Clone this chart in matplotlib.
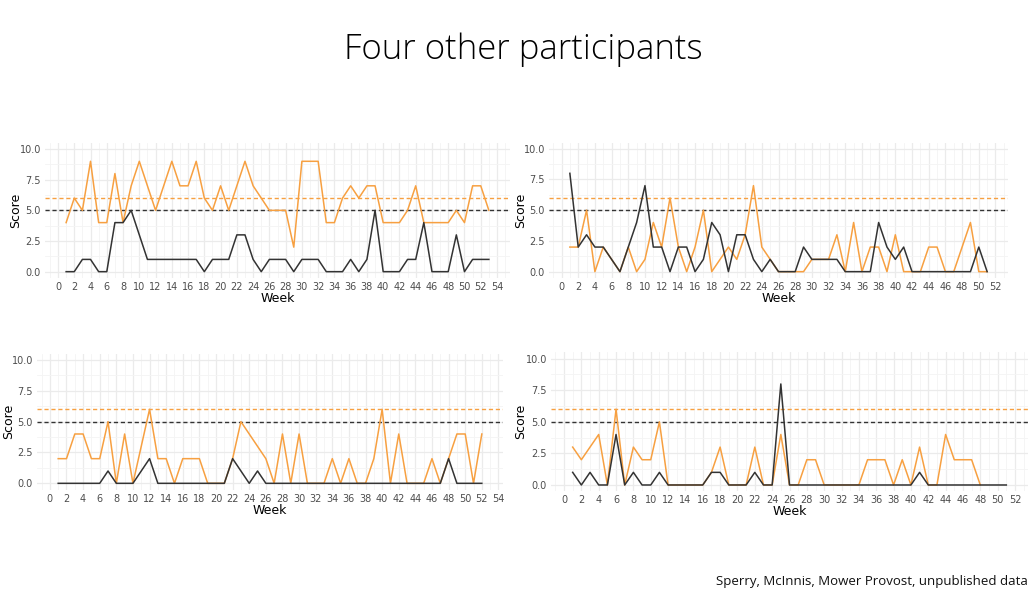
import matplotlib
matplotlib.use("Agg")
import matplotlib.pyplot as plt
from matplotlib.ticker import MultipleLocator

# ---------------- data ----------------
weeks_p1 = list(range(1, 54))
orange_p1 = [4, 6, 5, 9, 4, 4, 8, 4, 7, 9, 7, 5, 7, 9, 7, 7, 9, 6, 5, 7, 5, 7, 9, 7, 6, 5,
             5, 5, 2, 9, 9, 9, 4, 4, 6, 7, 6, 7, 7, 4, 4, 4, 5, 7, 4, 4, 4, 4, 5, 4, 7, 7, 5]
black_p1 = [0, 0, 1, 1, 0, 0, 4, 4, 5, 3, 1, 1, 1, 1, 1, 1, 1, 0, 1, 1, 1, 3, 3, 1, 0, 1,
            1, 1, 0, 1, 1, 1, 0, 0, 0, 1, 0, 1, 5, 0, 0, 0, 1, 1, 4, 0, 0, 0, 3, 0, 1, 1, 1]

weeks_p2 = list(range(1, 52))
orange_p2 = [2, 2, 5, 0, 2, 1, 0, 2, 0, 1, 4, 2, 6, 2, 0, 2, 5, 0, 1, 2, 1, 3, 7, 2, 1, 0,
             0, 0, 0, 1, 1, 1, 3, 0, 4, 0, 2, 2, 0, 3, 0, 0, 0, 2, 2, 0, 0, 2, 4, 0, 0]
black_p2 = [8, 2, 3, 2, 2, 1, 0, 2, 4, 7, 2, 2, 0, 2, 2, 0, 1, 4, 3, 0, 3, 3, 1, 0, 1, 0,
            0, 0, 2, 1, 1, 1, 1, 0, 0, 0, 0, 4, 2, 1, 2, 0, 0, 0, 0, 0, 0, 0, 0, 2, 0]

weeks_p3 = list(range(1, 53))
orange_p3 = [2, 2, 4, 4, 2, 2, 5, 0, 4, 0, 3, 6, 2, 2, 0, 2, 2, 2, 0, 0, 0, 2, 5, 4, 3, 2,
             0, 4, 0, 4, 0, 0, 0, 2, 0, 2, 0, 0, 2, 6, 0, 4, 0, 0, 0, 2, 0, 2, 4, 4, 0, 4]
black_p3 = [0, 0, 0, 0, 0, 0, 1, 0, 0, 0, 1, 2, 0, 0, 0, 0, 0, 0, 0, 0, 0, 2, 1, 0, 1, 0,
            0, 0, 0, 0, 0, 0, 0, 0, 0, 0, 0, 0, 0, 0, 0, 0, 0, 0, 0, 0, 0, 2, 0, 0, 0, 0]

weeks_p4_orange = list(range(1, 49))
orange_p4 = [3, 2, 3, 4, 0, 6, 0, 3, 2, 2, 5, 0, 0, 0, 0, 0, 1, 3, 0, 0, 0, 3, 0, 0, 4, 0,
             0, 2, 2, 0, 0, 0, 0, 0, 2, 2, 2, 0, 2, 0, 3, 0, 0, 4, 2, 2, 2, 0]
weeks_p4_black = list(range(1, 52))
black_p4 = [1, 0, 1, 0, 0, 4, 0, 1, 0, 0, 1, 0, 0, 0, 0, 0, 1, 1, 0, 0, 0, 1, 0, 0, 8, 0,
            0, 0, 0, 0, 0, 0, 0, 0, 0, 0, 0, 0, 0, 0, 1, 0, 0, 0, 0, 0, 0, 0, 0, 0, 0]

orange_threshold = 6
black_threshold = 5

title = "Four other participants"
caption = "Sperry, McInnis, Mower Provost, unpublished data"

# ---------------- style ----------------
ORANGE = "#F7A041"
BLACK = "#333333"
GRID = "#EBEBEB"
TICK = "#4D4D4D"

W, H = 1032, 596
fig = plt.figure(figsize=(W / 100, H / 100), dpi=100)


def px_axes(x0, x1, ytop, ybot):
    return fig.add_axes([x0 / W, 1 - ybot / H, (x1 - x0) / W, (ybot - ytop) / H])


panels = [
    # axes box in px, last x tick, y-label centre x px, series
    ((45, 510, 142.9, 277.8), 54, 15.5, (weeks_p1, orange_p1), (weeks_p1, black_p1)),
    ((549, 1008, 142.6, 277.8), 52, 520.5, (weeks_p2, orange_p2), (weeks_p2, black_p2)),
    ((37, 503, 353.8, 489.5), 54, 8.5, (weeks_p3, orange_p3), (weeks_p3, black_p3)),
    ((551, 1028, 352.4, 491.3), 52, 520.5, (weeks_p4_orange, orange_p4), (weeks_p4_black, black_p4)),
]

for box, xmax_tick, ylab_x, (wo, vo), (wb, vb) in panels:
    ax = px_axes(*box)
    allw = list(wo) + list(wb)
    lo, hi = min(allw), max(allw)
    pad = 0.05 * (hi - lo)
    ax.set_xlim(lo - pad, hi + pad)
    ax.set_ylim(-0.5, 10.5)
    ax.set_xticks(list(range(0, xmax_tick + 1, 2)))
    ax.xaxis.set_minor_locator(MultipleLocator(1))
    ax.set_yticks([0, 2.5, 5, 7.5, 10])
    ax.set_yticklabels(["0.0", "2.5", "5.0", "7.5", "10.0"])
    ax.yaxis.set_minor_locator(MultipleLocator(1.25))
    ax.grid(True, which="major", color=GRID, lw=0.9, zorder=0)
    ax.grid(True, which="minor", color="#F4F4F4", lw=0.6, zorder=0)
    for s in ax.spines.values():
        s.set_visible(False)
    ax.tick_params(which="both", length=0, labelsize=7, labelcolor=TICK, pad=3)
    ax.axhline(orange_threshold, color=ORANGE, lw=1.0, ls=(0, (3, 2)), zorder=2)
    ax.axhline(black_threshold, color=BLACK, lw=1.0, ls=(0, (3, 2)), zorder=2)
    ax.plot(wo, vo, color=ORANGE, lw=1.1, zorder=3)
    ax.plot(wb, vb, color=BLACK, lw=1.1, zorder=4)
    ax.set_xlabel("Week", fontsize=9, color="black", labelpad=0)
    ax.set_ylabel("Score", fontsize=9, color="black", va="center")
    x0, x1 = box[0], box[1]
    ax.yaxis.set_label_coords((ylab_x - x0) / (x1 - x0), 0.5)

fig.text(523 / W, 1 - 50 / H, title, ha="center", va="center", fontsize=25,
         family="Open Sans", fontweight="light", color="black")
fig.text(1028 / W, 1 - 581 / H, caption, ha="right", va="center", fontsize=9.5,
         family="Open Sans", color="#111111")

fig.savefig("out.png", dpi=100, facecolor="white")
